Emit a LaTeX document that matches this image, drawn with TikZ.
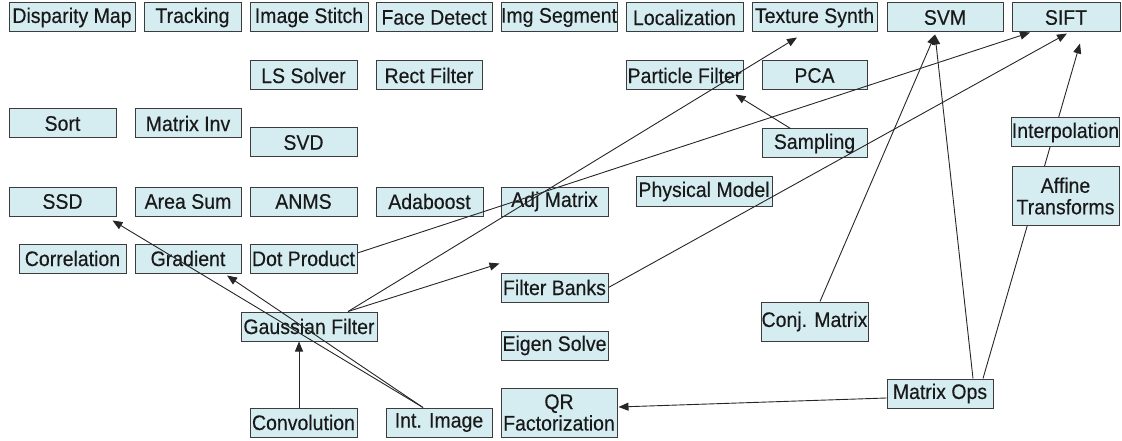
\documentclass[tikz,border=0pt]{standalone}
\usepackage{fontspec}
\usepackage{graphicx}
\setmainfont{Liberation Sans}
\newfontfamily\boxfont{Liberation Sans}[FakeBold=0.3]
\usetikzlibrary{arrows.meta}
\definecolor{boxfill}{RGB}{213,236,240}
\definecolor{boxline}{RGB}{60,60,60}
\definecolor{txt}{RGB}{25,25,25}
\newcommand{\st}[1]{\scalebox{1}[1.08]{#1}}
\tikzset{
  box/.style={draw=boxline, fill=boxfill, line width=1pt, inner sep=0pt,
    minimum height=29pt, minimum width=107pt, text=txt, align=center,
    font=\boxfont\fontsize{19.5}{21.5}\selectfont},
  arr/.style={draw=black!85, line width=0.9pt, -{Triangle[length=10pt,width=8pt]}}
}
\begin{document}
\begin{tikzpicture}[x=1pt,y=-1pt]
\useasboundingbox (0,0) rectangle (1122,441);
% row 1
\node[box, minimum width=126pt] (disp) at (72,17.5) {\st{Disparity Map}};
\node[box, minimum width=97pt] (track) at (192.5,17.5) {\st{Tracking}};
\node[box, minimum width=118pt] (stitch) at (309,17.5) {\st{Image Stitch}};
\node[box, minimum width=116pt] (face) at (434,17.5) {\st{Face Detect}};
\node[box, minimum width=116pt] (seg) at (559,17.5) {\st{Img Segment}};
\node[box, minimum width=117pt] (loc) at (684.5,17.5) {\st{Localization}};
\node[box, minimum width=125pt] (tex) at (814.5,17.5) {\st{Texture Synth}};
\node[box, minimum width=116pt] (svm) at (945,17.5) {\st{SVM}};
\node[box, minimum width=108pt] (sift) at (1066,17.5) {\st{SIFT}};
% row 2
\node[box] (ls) at (303.5,75.5) {\st{LS Solver}};
\node[box, minimum width=106pt] (rect) at (429,75.5) {\st{Rect Filter}};
\node[box, minimum width=117pt] (part) at (684.5,75.5) {\st{Particle Filter}};
\node[box, minimum width=105pt] (pca) at (814.5,75.5) {\st{PCA}};
% row 3
\node[box] (sort) at (62.5,123.5) {\st{Sort}};
\node[box, minimum width=106pt] (minv) at (188,123.5) {\st{Matrix Inv}};
\node[box] (svd) at (303.5,142.5) {\st{SVD}};
\node[box, minimum width=105pt] (samp) at (814.5,143.5) {\st{Sampling}};
% row 4
\node[box] (ssd) at (62.5,201.5) {\st{SSD}};
\node[box, minimum width=106pt] (area) at (188,201.5) {\st{Area Sum}};
\node[box] (anms) at (303.5,201.5) {\st{ANMS}};
\node[box] (ada) at (429.5,201.5) {\st{Adaboost}};
\node[box] (adj) at (554.5,201.5) {\st{Adj Matrix}};
\node[box, minimum width=136pt] (phys) at (704,191.5) {\st{Physical Model}};
% row 5
\node[box] (corr) at (72.5,258.5) {\st{Correlation}};
\node[box, minimum width=106pt] (grad) at (188,258.5) {\st{Gradient}};
\node[box] (dot) at (303.5,258.5) {\st{Dot Product}};
\node[box] (fb) at (554.5,287.5) {\st{Filter Banks}};
% row 6
\node[box, minimum width=136pt] (gauss) at (309,326.5) {\st{Gaussian Filter}};
\node[box, minimum height=39pt] (conj) at (814.5,321.5) {\st{Conj. Matrix}};
\node[box] (eig) at (554.5,345.5) {\st{Eigen Solve}};
% row 7
\node[box] (conv) at (303.5,422.5) {\st{Convolution}};
\node[box, minimum width=106pt] (int) at (439,422.5) {\st{Int. Image}};
\node[box, minimum width=116pt, minimum height=49pt] (qr) at (559,412.5) {\st{QR}\\\st{Factorization}};
\node[box, minimum width=106pt] (mops) at (940,393.5) {\st{Matrix Ops}};
% connectors
\draw[arr] ([xshift=-4.5pt]conv.north) -- ([xshift=-4.5pt]conv.north |- gauss.south);
\draw[arr] ([xshift=39pt]gauss.north) -- ([xshift=-17.5pt,yshift=-5pt]tex.south);
\draw[arr] ([xshift=39pt]gauss.north) -- ([xshift=-1pt,yshift=9pt]fb.north west);
\draw[arr] ([yshift=5.5pt]dot.east) -- ([xshift=-36pt]sift.south);
\draw[arr] (fb.east) -- ([xshift=1pt,yshift=-1pt]sift.south);
\draw[arr] ([xshift=-24pt]samp.north) -- ([xshift=-8pt,yshift=-4pt]part.south east);
\draw[arr] ([xshift=5.5pt]conj.north) -- ([xshift=-10pt,yshift=-2pt]svm.south);
\draw[arr] ([xshift=33pt]mops.north) -- ([xshift=-10pt,yshift=-2pt]svm.south);
\draw[arr] ([xshift=43pt]mops.north) -- ([xshift=14pt,yshift=-11pt]sift.south);
\draw[arr] ([xshift=-16pt]int.north) -- ([xshift=-4pt,yshift=-4pt]ssd.south east);
\draw[arr] ([xshift=-16pt]int.north) -- ([xshift=39pt,yshift=-2pt]grad.south);
\draw[arr] ([yshift=-4.5pt]mops.west) -- ([xshift=1pt,yshift=5.5pt]qr.east);
% nodes drawn over the Matrix Ops to SIFT connector
\node[box] (interp) at (1065.5,132.5) {\st{Interpolation}};
\node[box, minimum height=58pt] (aff) at (1065.5,196) {\st{Affine}\\\st{Transforms}};
\end{tikzpicture}
\end{document}
